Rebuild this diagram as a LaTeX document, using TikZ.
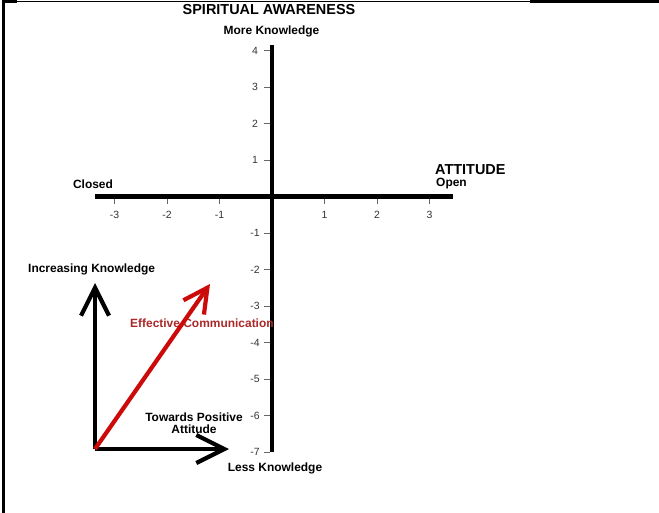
\documentclass[tikz,border=0pt]{standalone}
\usepackage{fontspec}
\setmainfont{Liberation Sans}
\usetikzlibrary{
arrows.meta
}

\definecolor{arrowred}{RGB}{205,10,10}
\definecolor{textred}{RGB}{170,40,40}

\begin{document}
\begin{tikzpicture}[x=1bp, y=-1bp, >=latex,
  lbl/.style={font=\fontsize{12}{12.5}\selectfont\bfseries, inner sep=0pt},
  headlbl/.style={font=\fontsize{14.5}{15}\selectfont\bfseries, inner sep=0pt},
  ticklbl/.style={font=\fontsize{10.5}{10.5}\selectfont, text=black!80, inner sep=0pt},
  bigarrow/.style={line width=4.2bp, -{Straight Barb[length=28bp,width=28bp]}}]

\useasboundingbox (0,0) rectangle (659,513);

% Frame
\draw[line width=2.5bp] (3.5,0) -- (3.5,513);
\draw[line width=1.2bp] (3,1.5) -- (530,1.5);
\draw[line width=3bp] (530,2) -- (659,2);
\draw[line width=3bp] (3,2) -- (17,2);

% Axes
\coordinate (vtop) at (272,45);
\coordinate (vbot) at (272,452);
\coordinate (hleft) at (95,196.5);
\coordinate (hright) at (453,196.5);
\draw[line width=4bp] (vtop) -- (vbot);
\draw[line width=5bp] (hleft) -- (hright);

% Ticks
\foreach \v in {-7,...,-1,1,2,3,4}
{
\draw[thin, black!60] (264,196.5-36.5*\v) -- (270,196.5-36.5*\v);
\node[ticklbl] (ty\v) at (255,196.5-36.5*\v) {\v};
}
\foreach \u in {-3,-2,-1,1,2,3}
{
\draw[thin, black!60] (272+52.5*\u,199) -- (272+52.5*\u,204);
\node[ticklbl] (tx\u) at (272+52.5*\u,215) {\u};
}

% Axis labels
\node[headlbl] (spirit) at (269,10) {SPIRITUAL AWARENESS};
\node[lbl] (more) at (271.5,31) {More Knowledge};
\node[lbl] (less) at (275,468) {Less Knowledge};
\node[lbl] (closed) at (93,184) {Closed};
\node[lbl, anchor=west] (open) at (436,184) {Open};
\node[headlbl, anchor=west] (attitude) at (435,170) {ATTITUDE};

% Legend arrows
\node[lbl, anchor=west] (incr) at (28,269) {Increasing Knowledge};
\node[lbl, align=center] (toward) at (194,423) {Towards Positive\\Attitude};
\node[lbl, text=textred, anchor=west] (effcomm) at (130,323) {Effective Communication};

\coordinate (origin) at (95,449);
\coordinate (knowtip) at (95,283);
\coordinate (atttip) at (229,449);
\coordinate (commtip) at (210,284);
\draw[bigarrow] (origin) -- (knowtip);
\draw[bigarrow] (origin) -- (atttip);
\draw[bigarrow, arrowred, -{Straight Barb[length=24bp,width=25bp]}] (origin) -- (commtip);

\end{tikzpicture}
\end{document}
